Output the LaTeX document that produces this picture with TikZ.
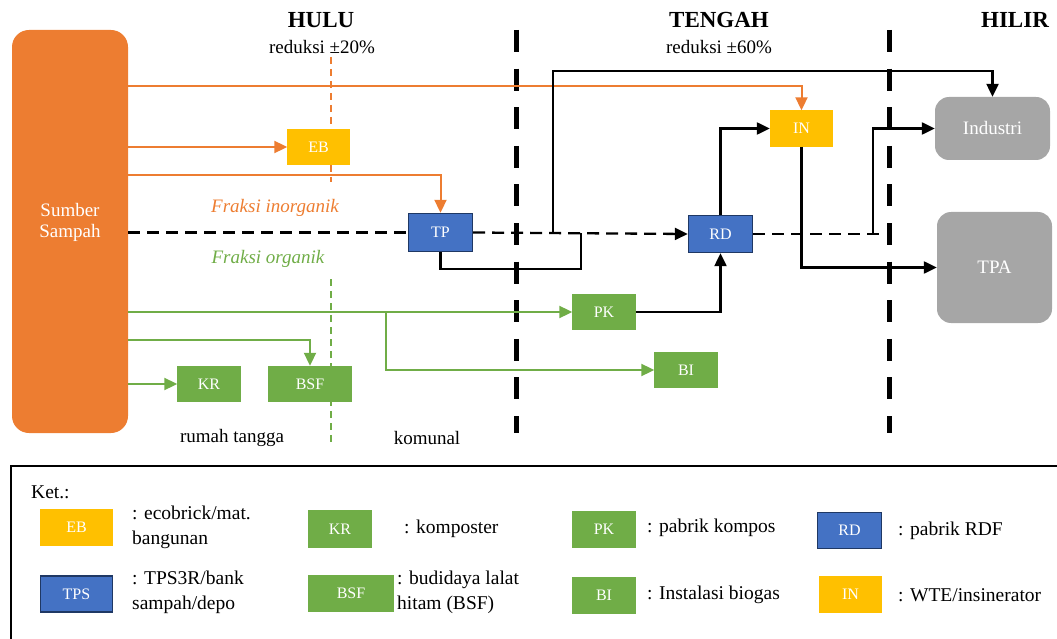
\documentclass[tikz,border=0pt]{standalone}
\usepackage{fontspec}
\setmainfont{Liberation Serif}
\usetikzlibrary{arrows.meta}
\definecolor{oranye}{HTML}{ED7D31}
\definecolor{kuning}{HTML}{FFC000}
\definecolor{hijau}{HTML}{70AD47}
\definecolor{biru}{HTML}{4472C4}
\definecolor{abu}{HTML}{A6A6A6}
\colorlet{tepikuning}{kuning}
\colorlet{tepihijau}{hijau}
\definecolor{tepibiru}{HTML}{1F3864}
\newcommand{\teks}{\fontsize{19}{21}\selectfont}
\newcommand{\judul}{\fontsize{23}{26}\selectfont\bfseries}

\begin{document}
\begin{tikzpicture}[x=1pt, y=-1pt,
    kotak/.style = {rectangle, fill=#1, draw=tepi#1, line width=1.4pt,
                inner sep=0pt, minimum width=62pt, minimum height=35pt,
                text=white, font=\fontsize{16}{18}\selectfont},
    akhir/.style = {rectangle, rounded corners=14pt, fill=abu, text=white,
                minimum width=115pt, font=\fontsize{19}{21}\selectfont},
    alir/.style = {line width=2pt, -{Triangle[length=13pt,width=12pt]}},
    hitam/.style = {line width=2.3pt, black},
    putus/.style = {hitam, dash pattern=on 12pt off 7pt},
    batas/.style = {line width=5pt, dash pattern=on 22pt off 16.6pt},  % pembatas hulu/tengah/hilir
    garis/.style = {line width=1.5pt, dash pattern=on 7pt off 5pt},
    ket/.style = {anchor=west, align=left, inner sep=0pt,
                font=\fontsize{19.5}{25}\selectfont}
                    ]
        \useasboundingbox (0,0) rectangle (1057,639);
        \clip (0,0) rectangle (1057,639);
        % garis batas
        \foreach \bx in {516, 889}
            \draw[batas] (\bx,30) -- (\bx,433);
        \draw[garis, oranye] (331,57) -- (331,182);
        \draw[garis, hijau] (331,279) -- (331,443);
        % judul
        \node[font=\judul] (hulu) at (321,20) {HULU};
        \node[font=\teks] (r20) at (322,47) {reduksi ±20\%};
        \node[font=\judul] (tengah) at (719,20) {TENGAH};
        \node[font=\teks] (r60) at (719,47) {reduksi ±60\%};
        \node[font=\judul] (hilir) at (1015,20) {HILIR};
        % sumber
        \node[rectangle, rounded corners=17pt, fill=oranye, minimum width=116pt,
              minimum height=403pt] (src) at (70,231.5) {};
        \node[text=white, align=center, font=\teks] (srctxt) at (70,222) {Sumber\\Sampah};
        % fasilitas
        \node[kotak=kuning, minimum width=61pt] (EB) at (318.5,147) {EB};
        \node[kotak=biru, minimum width=64pt, minimum height=38pt] (TP) at (440.5,232.5) {TP};
        \node[kotak=biru, minimum width=64pt, minimum height=37pt] (RD) at (720.5,234) {RD};
        \node[kotak=kuning] (IN) at (801.5,128.5) {IN};
        \node[kotak=hijau] (PK) at (604,312) {PK};
        \node[kotak=hijau] (BI) at (686,370) {BI};
        \node[kotak=hijau] (KR) at (209,384) {KR};
        \node[kotak=hijau, minimum width=82pt] (BSF) at (310,384) {BSF};
        \node[akhir, minimum height=63pt] (Ind) at (992.5,128.5) {Industri};
        \node[akhir, minimum height=111pt] (TPA) at (994.5,267.5) {TPA};
        % titik bantu
        \coordinate (y1) at (0,86);
        \coordinate (y2) at (0,175);
        \coordinate (y3) at (0,340);
        \coordinate (cab) at (386,312);
        \coordinate (j1) at (553,232.5);
        \coordinate (atas) at (553,71);
        \coordinate (bawah) at (581,269);
        \coordinate (j2) at (581,233);
        \coordinate (j3) at (873,234);
        \coordinate (ujung) at (885,234);
        % fraksi inorganik
        \draw[alir, oranye] (src.east |- y1) -| (IN.north);
        \draw[alir, oranye] (src.east |- EB) -- (EB.west);
        \draw[alir, oranye] (src.east |- y2) -| (TP.north);
        \draw[putus] (src.east |- TP) -- (TP.west);
        \draw[putus, -{Triangle[length=13pt,width=12pt]}] (TP.east) -- (RD.west);
        \draw[hitam, -{Triangle[length=13pt,width=12pt]}] (j1) -- (atas) -| (Ind.north);
        \draw[hitam] (TP.south) |- (bawah) -- (j2);
        \draw[hitam, -{Triangle[length=13pt,width=12pt]}] (RD.north) |- (IN.west);
        \draw[hitam, -{Triangle[length=13pt,width=12pt]}] (IN.south) |- (TPA.west);
        \draw[putus] (RD.east) -- (ujung);
        \draw[hitam, -{Triangle[length=13pt,width=12pt]}] (j3) |- (Ind.west);
        \draw[hitam, -{Triangle[length=13pt,width=12pt]}] (PK.east) -| (RD.south);
        % fraksi organik
        \draw[alir, hijau] (src.east |- PK) -- (PK.west);
        \draw[alir, hijau] (cab) |- (BI.west);
        \draw[alir, hijau] (src.east |- y3) -| (BSF.north);
        \draw[alir, hijau] (src.east |- KR) -- (KR.west);
        \node[font=\teks\itshape, text=oranye] (fin) at (275,208) {Fraksi inorganik};
        \node[font=\teks\itshape, text=hijau] (forg) at (268,259) {Fraksi organik};
        \node[font=\teks] (rt) at (232,438) {rumah tangga};
        \node[font=\teks] (kom) at (427,438) {komunal};
        % keterangan
        \draw[line width=2.5pt] (11,466) rectangle (1080,660);
        \node[ket] (ketj) at (31,492) {Ket.:};
        \foreach \nm/\x/\y/\w/\c in {EB/76.5/527.5/72/kuning, TPS/76.5/594/72/biru,
                KR/340/529/63/hijau, BSF/351/593.5/85/hijau, PK/604/529.5/63/hijau,
                BI/604/595.5/63/hijau, RD/849.5/530.5/64/biru, IN/850.5/594.5/62/kuning}
            \node[kotak=\c, minimum width=\w pt, minimum height=36pt] (k\nm) at (\x,\y) {\nm};
        \node[ket] (tEB) at (132,527.5) {: ecobrick/mat.\\bangunan};
        \node[ket] (tTPS) at (132,592.5) {: TPS3R/bank\\sampah/depo};
        \node[ket] (tKR) at (404,529) {: komposter};
        \node[ket] (tBSF) at (397,592.5) {: budidaya lalat\\hitam (BSF)};
        \node[ket] (tPK) at (647,528) {: pabrik kompos};
        \node[ket] (tBI) at (647,595) {: Instalasi biogas};
        \node[ket] (tRD) at (898,531) {: pabrik RDF};
        \node[ket] (tIN) at (898,595) {: WTE/insinerator};
    \end{tikzpicture}
\end{document}
